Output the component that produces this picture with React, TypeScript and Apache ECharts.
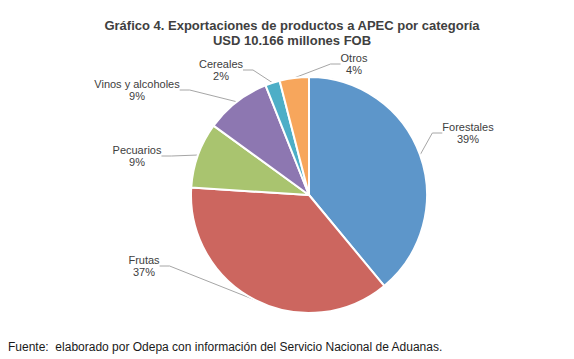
import React, { useEffect, useRef } from "react";
import * as echarts from "echarts";

const categories = ["Forestales", "Frutas", "Pecuarios", "Vinos y alcoholes", "Cereales", "Otros"];
const values = [39, 37, 9, 9, 2, 4];
const colors = ["#5D96CA", "#CC665F", "#A9C46F", "#8D77B1", "#4DAEC7", "#F7A65C"];
// label text centers (layout only)
const labelPos: [number, number][] = [
  [468, 133],
  [144, 266],
  [137, 156],
  [137, 90],
  [221, 70],
  [354, 64],
];

export default function App() {
  const ref = useRef<HTMLDivElement>(null);
  useEffect(() => {
    document.body.style.margin = "0";
    const chart = echarts.init(ref.current!, null, { renderer: "svg" });
    chart.setOption({
      animation: false,
      backgroundColor: "#ffffff",
      title: {
        text: "Gráfico 4. Exportaciones de productos a APEC por categoría\nUSD 10.166 millones FOB",
        left: 287,
        top: 13,
        textAlign: "center",
        textStyle: {
          fontFamily: "Liberation Sans, Arial, sans-serif",
          fontSize: 13,
          fontWeight: "bold",
          color: "#404040",
          lineHeight: 15,
        },
      },
      graphic: [
        {
          type: "text",
          left: 8,
          top: 341,
          style: {
            text: "Fuente:  elaborado por Odepa con información del Servicio Nacional de Aduanas.",
            fontFamily: "Liberation Sans, Arial, sans-serif",
            fontSize: 12,
            fill: "#1a1a1a",
          },
        },
      ],
      series: [
        {
          type: "pie",
          center: [309, 195],
          radius: [0, 118],
          startAngle: 90,
          clockwise: true,
          data: categories.map((c, i) => ({
            name: c,
            value: values[i],
            itemStyle: { color: colors[i] },
          })),
          itemStyle: { borderColor: "#ffffff", borderWidth: 2 },
          label: {
            show: true,
            formatter: (p: any) => `${p.name}\n${p.value}%`,
            fontFamily: "Liberation Sans, Arial, sans-serif",
            fontSize: 11,
            lineHeight: 12,
            color: "#404040",
            align: "center",
          },
          labelLine: {
            show: true,
            length: 15,
            length2: 10,
            lineStyle: { color: "#A6A6A6", width: 1 },
          },
          labelLayout: (params: any) => {
            const p = labelPos[params.dataIndex];
            return { x: p[0], y: p[1], align: "center", verticalAlign: "middle" };
          },
          emphasis: { disabled: true },
        },
      ],
    });
    return () => chart.dispose();
  }, []);
  return <div ref={ref} style={{ width: 574, height: 359 }} />;
}
